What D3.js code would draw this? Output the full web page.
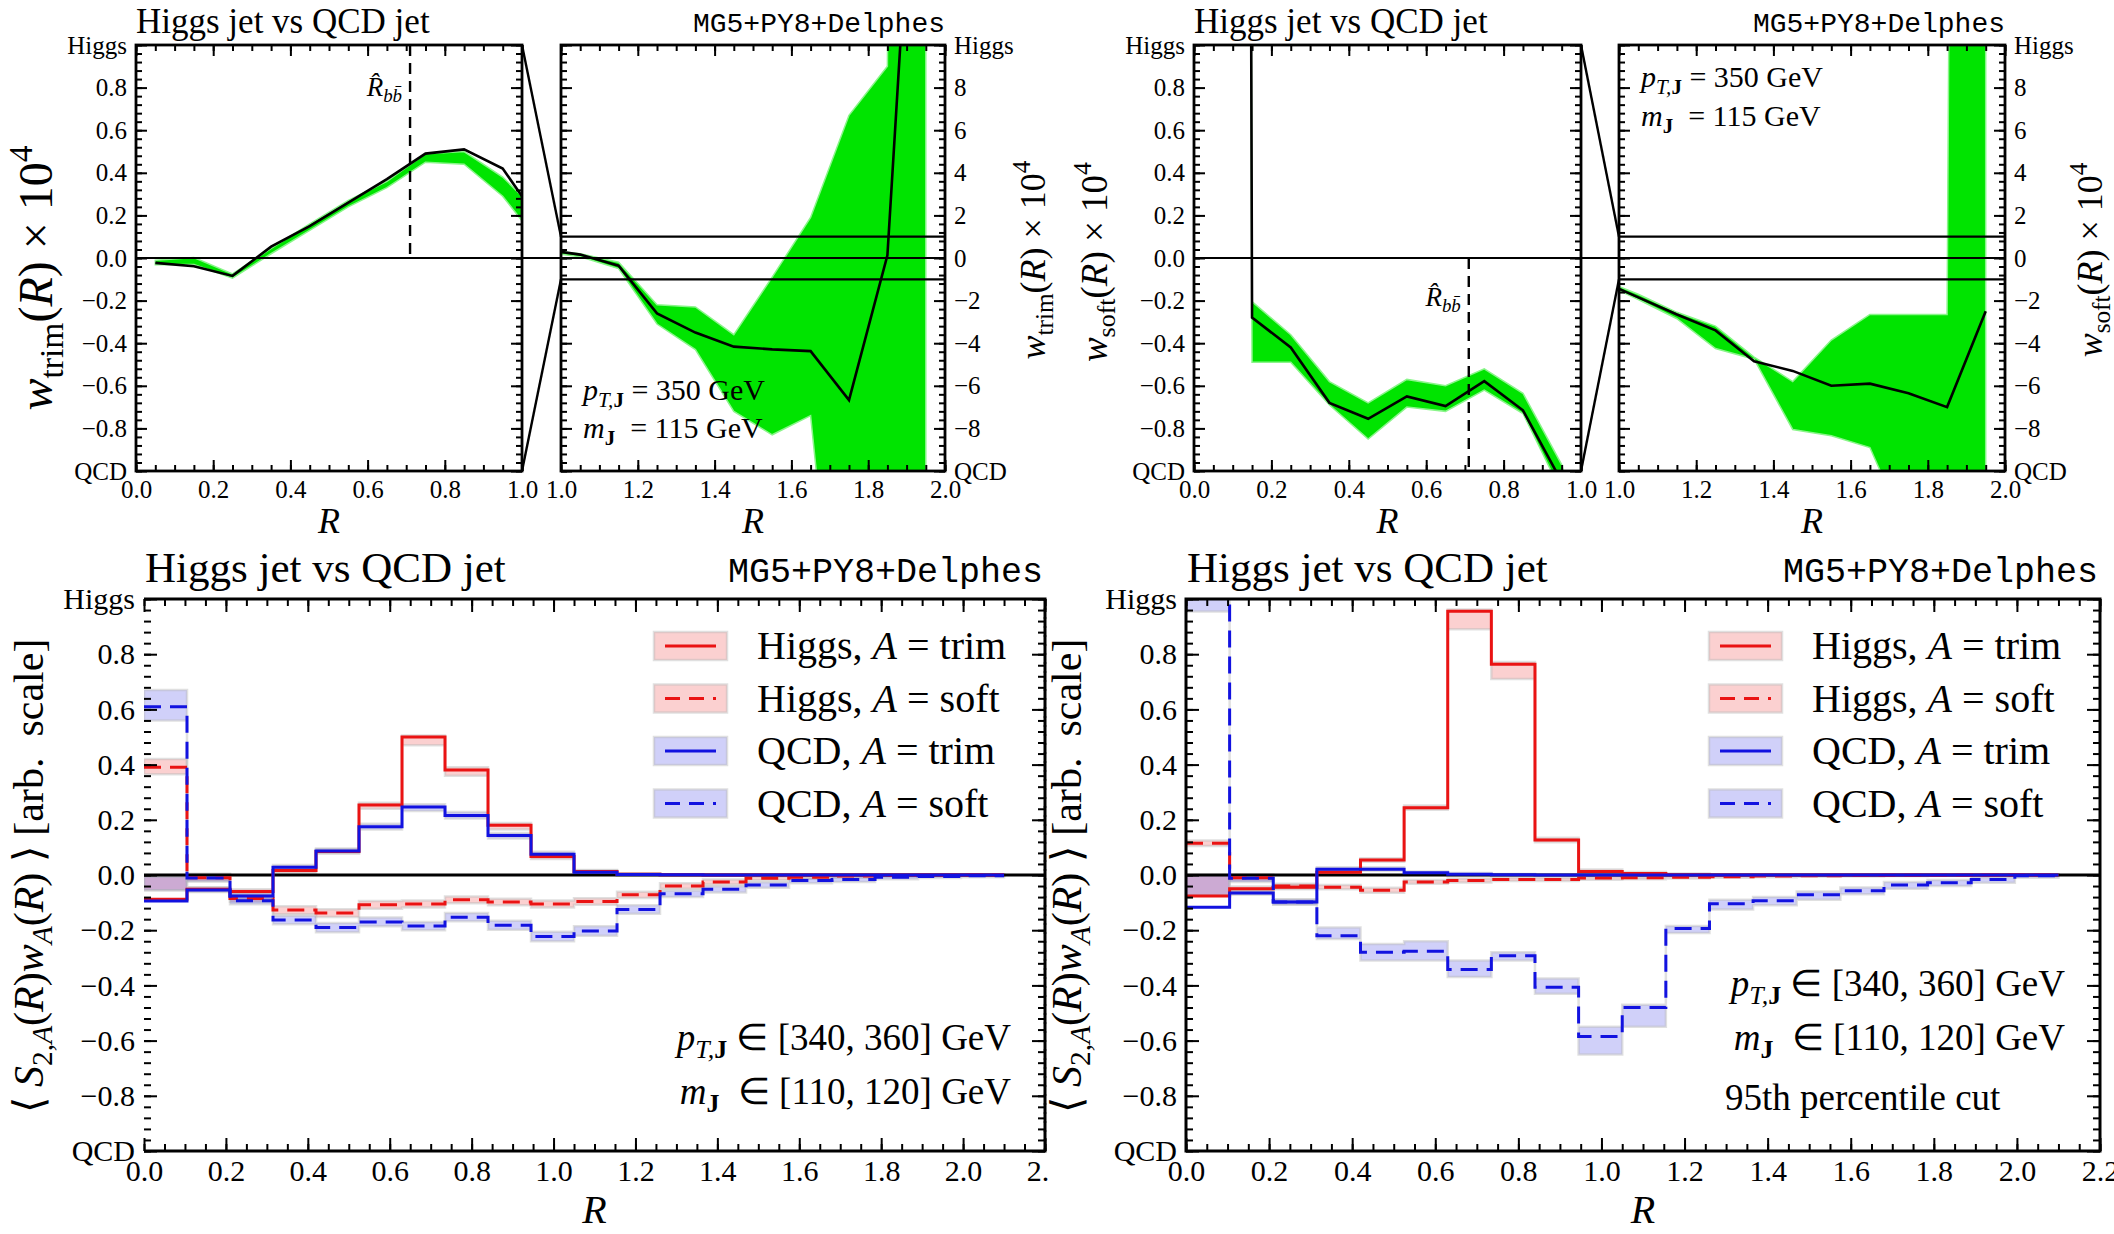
<!DOCTYPE html>
<html>
<head>
<meta charset="utf-8">
<script src="https://cdn.jsdelivr.net/npm/d3@7"></script>
<style>
  body { margin: 0; background: #fff; }
  text { font-family: "Liberation Serif", serif; fill: #000; white-space: pre; }
  .mono { font-family: "Liberation Mono", monospace; }
</style>
</head>
<body>
<div id="container"></div>
<script>
/* 1. DATA */
// top row: bin centres in R, w(R) x 10^4 with its uncertainty band
const rCenters = [0.05,0.15,0.25,0.35,0.45,0.55,0.65,0.75,0.85,0.95,1.05,1.15,1.25,1.35,1.45,1.55,1.65,1.75,1.85,1.95];
const wTrim   = [-0.023,-0.039,-0.084,0.053,0.15,0.26,0.37,0.49,0.51,0.42,0.16,-0.36,-2.6,-3.5,-4.16,-4.29,-4.37,-6.67,0.13,29.5];
const wTrimLo = [-0.032,-0.03,-0.095,0.02,0.13,0.24,0.33,0.45,0.44,0.29,0.06,-0.5,-3.1,-4.3,-7.2,-8.3,-7.4,-25,-60,-60];
const wTrimHi = [-0.01,0.002,-0.075,0.045,0.16,0.27,0.36,0.49,0.5,0.38,0.2,-0.2,-2.2,-2.3,-3.6,-0.9,1.9,6.7,9.0,300];
const wSoft   = [60,-0.28,-0.42,-0.68,-0.755,-0.65,-0.695,-0.578,-0.715,-1.05,-1.85,-2.65,-3.4,-4.85,-5.3,-6.0,-5.9,-6.35,-7.0,-2.5];
const wSoftLo = [55,-0.49,-0.49,-0.69,-0.85,-0.7,-0.72,-0.62,-0.73,-1.1,-1.95,-2.85,-4.25,-4.75,-8.05,-8.35,-8.9,-13,-60,-60];
const wSoftHi = [65,-0.205,-0.36,-0.58,-0.68,-0.57,-0.6,-0.52,-0.635,-0.97,-1.7,-2.55,-3.2,-4.65,-5.8,-3.85,-2.65,-2.65,-2.65,300];
const rbbHat = 0.71;

// bottom row: histogram bin edges and <S2,A(R) wA(R)>
const edges = [0,0.105,0.21,0.315,0.42,0.525,0.63,0.735,0.84,0.945,1.05,1.155,1.26,1.365,1.47,1.575,1.68,1.785,1.89,1.995,2.1];

// left panel (no cut)
const hTrimL   = [-0.088,-0.052,-0.06,0.016,0.085,0.254,0.5,0.38,0.18,0.067,0.013,0.003,0.001,0,0,0,0,0,0,0];
const hTrimLoL = [-0.055,-0.06,-0.068,0.008,0.078,0.24,0.47,0.36,0.165,0.058,0.007,0,-0.001,-0.001,-0.001,-0.001,-0.001,-0.001,-0.001,-0.001];
const hTrimHiL = [-0.005,-0.044,-0.052,0.026,0.093,0.262,0.505,0.39,0.188,0.075,0.018,0.006,0.003,0.002,0.001,0.001,0.001,0.001,0.001,0.001];
const hSoftL   = [0.39,-0.01,-0.085,-0.127,-0.138,-0.108,-0.105,-0.09,-0.098,-0.105,-0.096,-0.072,-0.04,-0.025,-0.012,-0.008,-0.004,-0.002,-0.001,0];
const hSoftLoL = [0.365,-0.022,-0.097,-0.142,-0.152,-0.122,-0.118,-0.102,-0.11,-0.118,-0.108,-0.083,-0.05,-0.034,-0.019,-0.014,-0.009,-0.006,-0.004,-0.003];
const hSoftHiL = [0.42,0.004,-0.074,-0.113,-0.124,-0.094,-0.092,-0.078,-0.086,-0.092,-0.084,-0.061,-0.03,-0.016,-0.005,-0.002,0.001,0.002,0.002,0.003];
const qTrimL   = [-0.094,-0.054,-0.076,0.028,0.087,0.175,0.246,0.216,0.143,0.075,0.01,0.002,0.001,0,0,0,0,0,0,0];
const qTrimLoL = [-0.055,-0.062,-0.086,0.02,0.08,0.165,0.232,0.205,0.132,0.066,0.004,-0.002,-0.002,-0.002,-0.001,-0.001,-0.001,-0.001,-0.001,-0.001];
const qTrimHiL = [-0.005,-0.045,-0.066,0.036,0.096,0.186,0.256,0.228,0.152,0.084,0.016,0.006,0.003,0.002,0.001,0.001,0.001,0.001,0.001,0.001];
const qSoftL   = [0.61,-0.011,-0.093,-0.163,-0.19,-0.17,-0.185,-0.153,-0.182,-0.223,-0.203,-0.125,-0.068,-0.052,-0.036,-0.02,-0.016,-0.008,-0.005,-0.003];
const qSoftLoL = [0.56,-0.024,-0.106,-0.178,-0.207,-0.186,-0.2,-0.168,-0.198,-0.24,-0.22,-0.14,-0.08,-0.063,-0.046,-0.03,-0.025,-0.015,-0.011,-0.008];
const qSoftHiL = [0.67,0.004,-0.08,-0.148,-0.174,-0.154,-0.17,-0.138,-0.166,-0.206,-0.186,-0.11,-0.056,-0.041,-0.026,-0.011,-0.007,-0.002,0,0.002];

// right panel (95th percentile cut)
const hTrimR   = [-0.076,-0.05,-0.044,0.01,0.054,0.244,0.956,0.764,0.127,0.013,0.005,0.001,0,0,0,0,0,0,0,0];
const hTrimLoR = [-0.075,-0.058,-0.052,0.004,0.048,0.236,0.89,0.71,0.119,0.007,0,-0.002,-0.002,-0.001,-0.001,-0.001,-0.001,-0.001,-0.001,-0.001];
const hTrimHiR = [0,-0.042,-0.036,0.017,0.061,0.252,0.962,0.772,0.135,0.02,0.011,0.005,0.002,0.001,0.001,0.001,0.001,0.001,0.001,0.001];
const hSoftR   = [0.115,-0.01,-0.04,-0.044,-0.055,-0.025,-0.02,-0.016,-0.016,-0.011,-0.01,-0.008,-0.006,-0.004,-0.003,-0.002,-0.001,-0.001,0,0];
const hSoftLoR = [0.105,-0.02,-0.048,-0.052,-0.064,-0.032,-0.027,-0.022,-0.022,-0.017,-0.015,-0.013,-0.01,-0.008,-0.006,-0.005,-0.004,-0.003,-0.002,-0.002];
const hSoftHiR = [0.125,0,-0.032,-0.036,-0.046,-0.018,-0.013,-0.01,-0.01,-0.005,-0.005,-0.003,-0.002,0,0,0.001,0.002,0.001,0.002,0.002];
const qTrimR   = [-0.117,-0.065,-0.098,0.021,0.021,0.008,0.003,0.001,0,0,0,0,0,0,0,0,0,0,0,0];
const qTrimLoR = [-0.075,-0.072,-0.106,0.014,0.015,0.003,-0.001,-0.002,-0.002,-0.002,-0.001,-0.001,-0.001,-0.001,-0.001,-0.001,-0.001,-0.001,-0.001,-0.001];
const qTrimHiR = [0,-0.057,-0.09,0.028,0.028,0.013,0.007,0.004,0.002,0.002,0.001,0.001,0.001,0.001,0.001,0.001,0.001,0.001,0.001,0.001];
const qSoftR   = [1.01,-0.012,-0.098,-0.22,-0.28,-0.276,-0.342,-0.293,-0.407,-0.585,-0.48,-0.194,-0.104,-0.093,-0.072,-0.057,-0.036,-0.028,-0.016,-0.003];
const qSoftLoR = [0.955,-0.025,-0.108,-0.232,-0.31,-0.31,-0.37,-0.31,-0.43,-0.65,-0.55,-0.21,-0.125,-0.11,-0.09,-0.07,-0.05,-0.04,-0.028,-0.01];
const qSoftHiR = [1.05,0.002,-0.088,-0.19,-0.25,-0.24,-0.31,-0.28,-0.375,-0.55,-0.47,-0.185,-0.09,-0.08,-0.06,-0.045,-0.025,-0.018,-0.008,0.002];

// legend
const legendNames = ["Higgs", "Higgs", "QCD", "QCD"];
const legendAlgos = ["trim", "soft", "trim", "soft"];

// ticks
const xTicksA  = [0, 0.2, 0.4, 0.6, 0.8, 1.0];
const xLabelsA = ["0.0", "0.2", "0.4", "0.6", "0.8", "1.0"];
const xTicksB  = [1.0, 1.2, 1.4, 1.6, 1.8, 2.0];
const xLabelsB = ["1.0", "1.2", "1.4", "1.6", "1.8", "2.0"];
const yTicksA  = [-1, -0.8, -0.6, -0.4, -0.2, 0, 0.2, 0.4, 0.6, 0.8, 1];
const yLabelsA = ["QCD", "\u22120.8", "\u22120.6", "\u22120.4", "\u22120.2", "0.0", "0.2", "0.4", "0.6", "0.8", "Higgs"];
const yTicksB  = [-10, -8, -6, -4, -2, 0, 2, 4, 6, 8, 10];
const yLabelsB = ["QCD", "\u22128", "\u22126", "\u22124", "\u22122", "0", "2", "4", "6", "8", "Higgs"];
const xTicksC  = [0, 0.2, 0.4, 0.6, 0.8, 1.0, 1.2, 1.4, 1.6, 1.8, 2.0, 2.2];
const xLabelsC = ["0.0", "0.2", "0.4", "0.6", "0.8", "1.0", "1.2", "1.4", "1.6", "1.8", "2.0", "2.2"];

/* 2. CONSTANTS */
const width = 2114, height = 1234;
const red = "#ea1313", blue = "#1212e0", green = "#00e400", greenEdge = "#8af58a";

/* 3. SCALES */
const x1 = d3.scaleLinear().domain([0, 1]).range([136, 522]);
const x2 = d3.scaleLinear().domain([1, 2]).range([561, 945]);
const x3 = d3.scaleLinear().domain([0, 1]).range([1194, 1581]);
const x4 = d3.scaleLinear().domain([1, 2]).range([1619, 2005]);
const yA = d3.scaleLinear().domain([-1, 1]).range([471, 45]);
const yB = d3.scaleLinear().domain([-10, 10]).range([471, 45]);
const x5 = d3.scaleLinear().domain([0, 2.2]).range([144, 1045]);
const x6 = d3.scaleLinear().domain([0, 2.2]).range([1186, 2100]);
const yC = d3.scaleLinear().domain([-1, 1]).range([1151, 599]);

/* 4. HELPERS */
const svg = d3.select("#container").append("svg")
  .attr("width", width).attr("height", height);
const defs = svg.append("defs");

function clip(id, xs, ys) {
  defs.append("clipPath").attr("id", id).append("rect")
    .attr("x", xs.range()[0]).attr("y", ys.range()[1])
    .attr("width", xs.range()[1] - xs.range()[0])
    .attr("height", ys.range()[0] - ys.range()[1]);
  return `url(#${id})`;
}

// mixed roman / italic / sub / superscript text
function rich(sel, parts, fs) {
  let shift = 0;
  sel.attr("font-size", fs);
  parts.forEach(([s, k]) => {
    let target = 0, size = fs;
    if (k.includes("_")) { target = 0.22 * fs; size = 0.7 * fs; }
    if (k.includes("^")) { target = -0.42 * fs; size = 0.7 * fs; }
    const ts = sel.append("tspan").text(s).attr("font-size", size);
    if (target - shift !== 0) ts.attr("dy", target - shift);
    shift = target;
    if (k.includes("i")) ts.attr("font-style", "italic");
    if (k.includes("B")) ts.attr("font-weight", "bold");
  });
  return sel;
}

// axes frame: inward ticks on all four sides
function frame(g, xs, ys, o) {
  const [xl, xr] = xs.range(), [yb, yt] = ys.range();
  const fmt = (ticks, labels) => (d) => labels[ticks.indexOf(d)];
  const put = (axis, tx, ty) => g.append("g")
    .attr("transform", `translate(${tx},${ty})`)
    .call(axis)
    .attr("font-size", o.fs).attr("font-family", "Liberation Serif")
    .call(a => a.select(".domain").remove())
    .call(a => a.selectAll("line").attr("stroke-width", 2));

  const sides = [
    [d3.axisBottom, xs, o.xMin, o.xMaj, 0, yb, o.xLab],
    [d3.axisTop,    xs, o.xMin, o.xMaj, 0, yt, null],
    [d3.axisLeft,   ys, o.yMin, o.yMaj, xl, 0, o.left ? o.yLab : null],
    [d3.axisRight,  ys, o.yMin, o.yMaj, xr, 0, o.right ? o.yLab : null]
  ];
  sides.forEach(([ax, sc, mn, mj, tx, ty, lab]) => {
    put(ax(sc).tickValues(mn).tickSize(-o.minLen).tickFormat(""), tx, ty);
    put(ax(sc).tickValues(mj).tickSize(-o.majLen).tickPadding(9)
      .tickFormat(lab ? fmt(mj, lab) : ""), tx, ty);
  });

  g.append("rect").attr("x", xl).attr("y", yt)
    .attr("width", xr - xl).attr("height", yb - yt)
    .attr("fill", "none").attr("stroke", "#000").attr("stroke-width", o.spine)
    .attr("stroke-dasharray", o.dottedRight
      ? `${(xr - xl) + (yb - yt) + (xr - xl)},0,0,${yb - yt}` : null);
  if (o.dottedRight) {
    g.append("line").attr("x1", xr).attr("x2", xr).attr("y1", yt).attr("y2", yb)
      .attr("stroke", "#000").attr("stroke-width", 2.5).attr("stroke-dasharray", "2,7");
  }
}

/* 5. TOP ROW: w(R) panels */
const minorTopX1 = d3.range(0, 1.0001, 0.05), minorTopX2 = d3.range(1, 2.0001, 0.05);
const minorTopYA = d3.range(-1, 1.0001, 0.04), minorTopYB = d3.range(-10, 10.001, 0.4);
const topOpts = { fs: 25, majLen: 11, minLen: 6, spine: 2.8 };

function wPanel(xs, ys, lo, hi, vals, id) {
  const g = svg.append("g").attr("clip-path", clip(id, xs, ys));
  g.append("path")
    .datum(rCenters.map((r, i) => [r, lo[i], hi[i]]))
    .attr("d", d3.area().x(d => xs(d[0])).y0(d => ys(d[1])).y1(d => ys(d[2])))
    .attr("fill", green).attr("stroke", greenEdge).attr("stroke-width", 1.5);
  return g;
}
function wLine(g, xs, ys, vals) {
  g.append("path")
    .datum(rCenters.map((r, i) => [r, vals[i]]))
    .attr("d", d3.line().x(d => xs(d[0])).y(d => ys(d[1])))
    .attr("fill", "none").attr("stroke", "#000").attr("stroke-width", 2.6);
}

function topPair(xa, xb, lo, hi, vals, id, rbbTop, labelParts, labelFsL, labelXL, labelYL, labelXR) {
  const ga = wPanel(xa, yA, lo, hi, vals, id + "a");
  const gb = wPanel(xb, yB, lo, hi, vals, id + "b");
  // reference lines
  svg.append("line").attr("x1", xa(0)).attr("x2", xb(2)).attr("y1", yA(0)).attr("y2", yA(0))
    .attr("stroke", "#000").attr("stroke-width", 2.2);
  [1, -1].forEach(v => {
    gb.append("line").attr("x1", xb(1)).attr("x2", xb(2)).attr("y1", yB(v)).attr("y2", yB(v))
      .attr("stroke", "#000").attr("stroke-width", 2.2);
    svg.append("line").attr("x1", xa(1)).attr("y1", yA(v)).attr("x2", xb(1)).attr("y2", yB(v))
      .attr("stroke", "#000").attr("stroke-width", 2.4);
  });
  wLine(ga, xa, yA, vals);
  wLine(gb, xb, yB, vals);
  // R_bb hat marker
  ga.append("line").attr("x1", xa(rbbHat)).attr("x2", xa(rbbHat))
    .attr("y1", rbbTop ? yA(1) : yA(0)).attr("y2", rbbTop ? yA(0) : yA(-1))
    .attr("stroke", "#000").attr("stroke-width", 2.4).attr("stroke-dasharray", "11,7");
  rich(svg.append("text").attr("x", xa(rbbHat) - 8).attr("y", rbbTop ? 96 : 306)
    .attr("text-anchor", "end"),
    [["R\u0302", "i"], ["bb\u0304", "_i"]], 27);

  frame(svg.append("g"), xa, yA, Object.assign({}, topOpts, {
    xMaj: xTicksA, xLab: xLabelsA, xMin: minorTopX1,
    yMaj: yTicksA, yLab: yLabelsA, yMin: minorTopYA, left: true }));
  frame(svg.append("g"), xb, yB, Object.assign({}, topOpts, {
    xMaj: xTicksB, xLab: xLabelsB, xMin: minorTopX2,
    yMaj: yTicksB, yLab: yLabelsB, yMin: minorTopYB, right: true }));

  // titles
  rich(svg.append("text").attr("x", xa(0)).attr("y", 33), [["Higgs jet vs QCD jet", ""]], 35);
  svg.append("text").attr("class", "mono").attr("x", xb(2)).attr("y", 32)
    .attr("text-anchor", "end").attr("font-size", 28).text("MG5+PY8+Delphes");
  // axis labels
  [xa, xb].forEach(xs => {
    svg.append("text").attr("x", (xs.range()[0] + xs.range()[1]) / 2).attr("y", 533)
      .attr("text-anchor", "middle").attr("font-size", 36).attr("font-style", "italic").text("R");
  });
  rich(svg.append("text").attr("text-anchor", "middle")
    .attr("transform", `translate(${labelXL},${labelYL}) rotate(-90)`), labelParts, labelFsL);
  rich(svg.append("text").attr("text-anchor", "middle")
    .attr("transform", `translate(${labelXR},260) rotate(-90)`), labelParts, 36);
}

topPair(x1, x2, wTrimLo, wTrimHi, wTrim, "p1", true,
  [["w", "i"], ["trim", "_"], ["(", ""], ["R", "i"], [") \u00d7 10", ""], ["4", "^"]], 48, 52, 278, 1045);
topPair(x3, x4, wSoftLo, wSoftHi, wSoft, "p3", false,
  [["w", "i"], ["soft", "_"], ["(", ""], ["R", "i"], [") \u00d7 10", ""], ["4", "^"]], 37, 1107, 262, 2102);

// kinematics labels, top row
[[x2(1) + 22, 400, 438], [x4(1) + 22, 87, 126]].forEach(([tx, y1, y2]) => {
  rich(svg.append("text").attr("x", tx).attr("y", y1),
    [["p", "i"], ["T,", "_i"], ["J", "_B"], [" = 350 GeV", ""]], 30);
  rich(svg.append("text").attr("x", tx).attr("y", y2),
    [["m", "i"], ["J", "_B"], ["  = 115 GeV", ""]], 30);
});

/* 6. BOTTOM ROW: step histograms */
const minorBotX = d3.range(0, 2.2001, 0.05), minorBotY = d3.range(-1, 1.0001, 0.04);

function sPanel(xs, series, id, outerClip) {
  const outer = svg.append("g");
  if (outerClip) {
    defs.append("clipPath").attr("id", id + "o").append("rect")
      .attr("x", 0).attr("y", 540).attr("width", outerClip).attr("height", 700);
    outer.attr("clip-path", `url(#${id}o)`);
  }
  const g = outer.append("g").attr("clip-path", clip(id, xs, yC));
  const pts = arr => edges.map((e, i) => [e, arr[Math.min(i, arr.length - 1)]]);
  const step = d3.line().curve(d3.curveStepAfter).x(d => xs(d[0])).y(d => yC(d[1]));
  const band = d3.area().curve(d3.curveStepAfter)
    .x(d => xs(d[0])).y0(d => yC(d[1])).y1(d => yC(d[2]));

  series.forEach(s => {
    g.append("path")
      .datum(edges.map((e, i) => [e, s.lo[Math.min(i, 19)], s.hi[Math.min(i, 19)]]))
      .attr("d", band).attr("fill", s.color).attr("fill-opacity", 0.2)
      .attr("stroke", "#bbb").attr("stroke-opacity", 0.45).attr("stroke-width", 2.5);
  });
  g.append("line").attr("x1", xs(0)).attr("x2", xs(2.2)).attr("y1", yC(0)).attr("y2", yC(0))
    .attr("stroke", "#000").attr("stroke-width", 3);
  series.forEach(s => {
    g.append("path").datum(pts(s.v)).attr("d", step)
      .attr("fill", "none").attr("stroke", s.color).attr("stroke-width", 3)
      .attr("stroke-dasharray", s.dash ? "17,9" : null);
  });

  frame(outer.append("g"), xs, yC, {
    fs: 30, majLen: 13, minLen: 7, spine: 3,
    xMaj: xTicksC, xLab: xLabelsC, xMin: minorBotX,
    yMaj: yTicksA, yLab: yLabelsA, yMin: minorBotY, left: true,
    dottedRight: !!outerClip });

  const [xl, xr] = xs.range();
  rich(outer.append("text").attr("x", xl + 1).attr("y", 582), [["Higgs jet vs QCD jet", ""]], 43);
  outer.append("text").attr("class", "mono").attr("x", xr - 2).attr("y", 582)
    .attr("text-anchor", "end").attr("font-size", 35).text("MG5+PY8+Delphes");
  outer.append("text").attr("x", (xl + xr) / 2).attr("y", 1223)
    .attr("text-anchor", "middle").attr("font-size", 40).attr("font-style", "italic").text("R");

  // legend
  series.forEach((s, i) => {
    const ly = 646 + i * 52.5, lx = xr - 391;
    outer.append("rect").attr("x", lx).attr("y", ly - 14).attr("width", 73).attr("height", 28)
      .attr("fill", s.color).attr("fill-opacity", 0.2)
      .attr("stroke", "#bbb").attr("stroke-opacity", 0.45).attr("stroke-width", 2.5);
    outer.append("line").attr("x1", lx + 11).attr("x2", lx + 62).attr("y1", ly).attr("y2", ly)
      .attr("stroke", s.color).attr("stroke-width", 3)
      .attr("stroke-dasharray", s.dash ? "15,9" : null);
    rich(outer.append("text").attr("x", lx + 103).attr("y", ly + 13),
      [[legendNames[i] + ", ", ""], ["A", "i"], [" = " + legendAlgos[i], ""]], 40);
  });
  return outer;
}

const left = sPanel(x5, [
  { v: hTrimL, lo: hTrimLoL, hi: hTrimHiL, color: red,  dash: false },
  { v: hSoftL, lo: hSoftLoL, hi: hSoftHiL, color: red,  dash: true },
  { v: qTrimL, lo: qTrimLoL, hi: qTrimHiL, color: blue, dash: false },
  { v: qSoftL, lo: qSoftLoL, hi: qSoftHiL, color: blue, dash: true }
], "p5", 1049);
const right = sPanel(x6, [
  { v: hTrimR, lo: hTrimLoR, hi: hTrimHiR, color: red,  dash: false },
  { v: hSoftR, lo: hSoftLoR, hi: hSoftHiR, color: red,  dash: true },
  { v: qTrimR, lo: qTrimLoR, hi: qTrimHiR, color: blue, dash: false },
  { v: qSoftR, lo: qSoftLoR, hi: qSoftHiR, color: blue, dash: true }
], "p6", null);

// y labels of the bottom row
const sLabel = [["\u27e8 ", ""], ["S", "i"], ["2,", "_"], ["A", "_i"], ["(", ""], ["R", "i"], [")", ""],
  ["w", "i"], ["A", "_i"], ["(", ""], ["R", "i"], [") \u27e9 [arb.  scale]", ""]];
[43, 1081].forEach(lx => {
  rich(svg.append("text").attr("text-anchor", "middle")
    .attr("transform", `translate(${lx},876) rotate(-90)`), sLabel, 42);
});

// kinematics labels, bottom row
[[x5(2.2) - 34, 1050, 1104, null], [x6(2.2) - 35, 996, 1050, 1110]].forEach(([tx, y1, y2, y3]) => {
  rich(svg.append("text").attr("x", tx).attr("y", y1).attr("text-anchor", "end"),
    [["p", "i"], ["T,", "_i"], ["J", "_B"], [" \u2208 [340, 360] GeV", ""]], 37);
  rich(svg.append("text").attr("x", tx).attr("y", y2).attr("text-anchor", "end"),
    [["m", "i"], ["J", "_B"], ["  \u2208 [110, 120] GeV", ""]], 37);
  if (y3) rich(svg.append("text").attr("x", 1725).attr("y", y3),
    [["95th percentile cut", ""]], 37);
});
</script>
</body>
</html>
